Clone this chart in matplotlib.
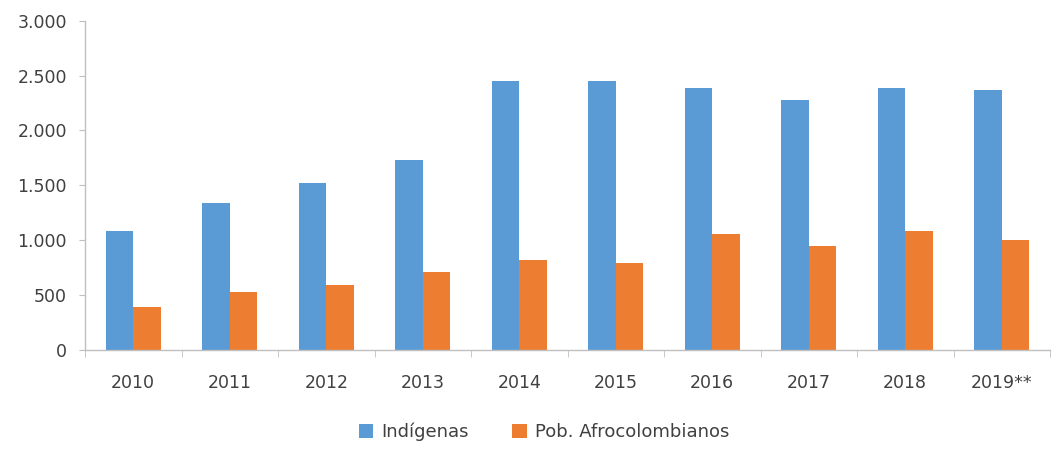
import numpy as np
import matplotlib
matplotlib.use("Agg")
import matplotlib.pyplot as plt
from matplotlib.ticker import FuncFormatter, FixedLocator

years = ["2010", "2011", "2012", "2013", "2014", "2015", "2016", "2017", "2018", "2019**"]
indigenas = [1080, 1340, 1520, 1735, 2450, 2450, 2385, 2275, 2385, 2365]
afro = [395, 525, 590, 710, 820, 790, 1055, 950, 1080, 1000]

blue = "#5B9BD5"
orange = "#ED7D31"
txt = "#404040"
axcol = "#BFBFBF"

plt.rcParams["font.family"] = ["DejaVu Sans"]

fig = plt.figure(figsize=(10.55, 4.5), dpi=100)
ax = fig.add_axes([85 / 1055, 100 / 450, 965 / 1055, 329.3 / 450])

x = np.arange(len(years))
w = 0.285
ax.bar(x - w / 2, indigenas, w, color=blue, label="Indígenas")
ax.bar(x + w / 2, afro, w, color=orange, label="Pob. Afrocolombianos")

ax.set_xlim(-0.5, len(years) - 0.5)
ax.set_ylim(0, 3000)
ax.set_yticks(range(0, 3001, 500))
ax.yaxis.set_major_formatter(FuncFormatter(lambda v, p: f"{int(v):,}".replace(",", ".")))

ax.set_xticks(x)
ax.set_xticklabels(years)
ax.xaxis.set_minor_locator(FixedLocator(np.arange(-0.5, len(years), 1.0)))
ax.tick_params(axis="x", which="major", length=0, pad=17, labelsize=12.5, labelcolor=txt)
ax.tick_params(axis="x", which="minor", length=5, color=axcol, direction="out")
ax.tick_params(axis="y", length=4, color=axcol, pad=9, labelsize=12.5, labelcolor=txt)

for s in ["top", "right"]:
    ax.spines[s].set_visible(False)
for s in ["left", "bottom"]:
    ax.spines[s].set_color(axcol)
    ax.spines[s].set_linewidth(1)

fig.legend(loc="center", bbox_to_anchor=(544 / 1055, 1 - 432 / 450), ncol=2, frameon=False,
           fontsize=13, labelcolor=txt, handlelength=0.8, handleheight=0.8,
           handletextpad=0.45, columnspacing=2.4)

fig.savefig("out.png", dpi=100, facecolor="white")
